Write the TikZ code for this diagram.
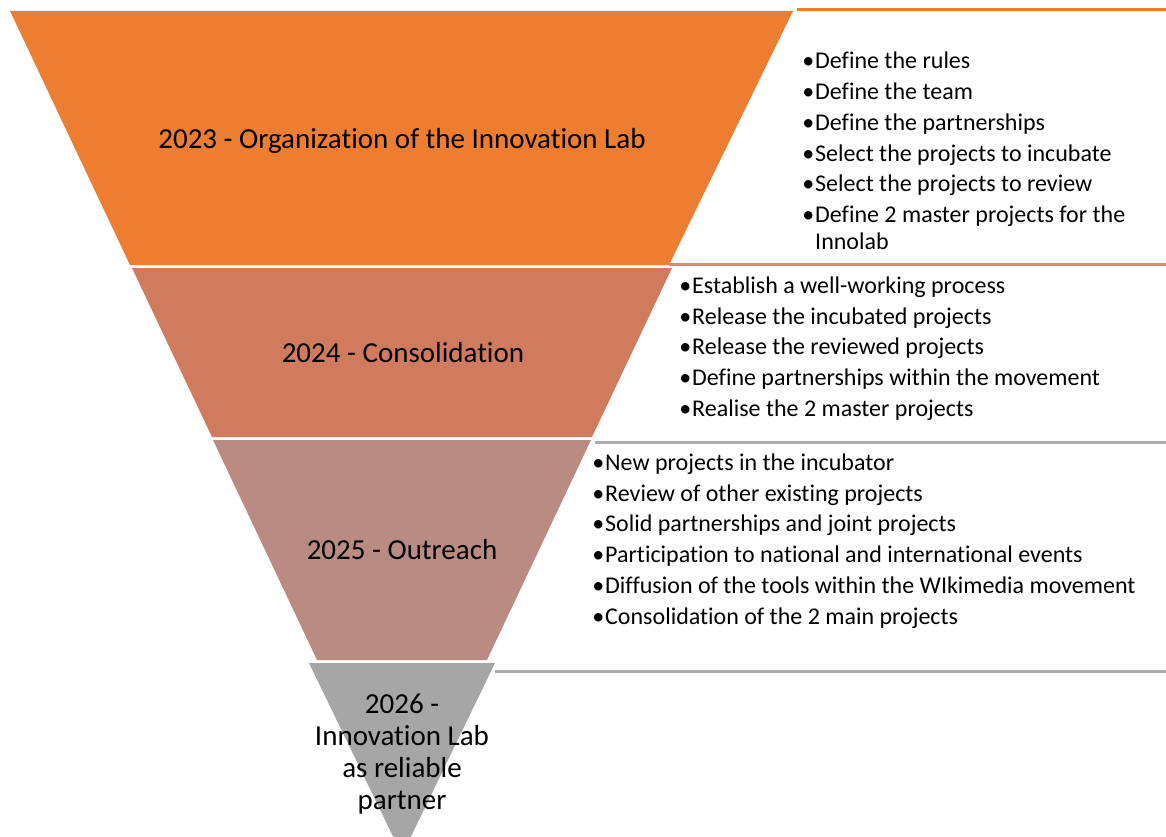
\documentclass[tikz,border=0pt]{standalone}
\usepackage{fontspec}
\setmainfont[Ligatures=NoCommon]{Carlito}
\definecolor{lay1}{RGB}{237,125,49}
\definecolor{lay2}{RGB}{209,123,94}
\definecolor{lay3}{RGB}{185,139,131}
\definecolor{lay4}{RGB}{166,166,166}
\definecolor{rule2}{RGB}{212,140,120}
\definecolor{rule3}{RGB}{172,172,172}
\begin{document}
\begin{tikzpicture}[x=1pt,y=-1pt,
  item/.style={anchor=base west, inner sep=0pt, font=\fontsize{24}{29}\selectfont},
  ttl/.style={anchor=base, inner sep=0pt, font=\fontsize{29}{32}\selectfont},
  toprule/.style={line width=3pt}]
\useasboundingbox (0,0) rectangle (1166,837);
\clip (0,0) rectangle (1166,837);
% funnel layers
\fill[lay1] (10,11) -- (793,11) -- (669,265) -- (130,265) -- cycle;
\fill[lay2] (132,268) -- (672,268) -- (592,437) -- (212,437) -- cycle;
\fill[lay3] (213,440) -- (591,440) -- (487,660) -- (317,660) -- cycle;
\fill[lay4] (309,663) -- (495,663) -- (402,855) -- cycle;
% rules of the text boxes
\draw[toprule, lay1] (797,10) -- (1166,10);
\draw[toprule, rule2] (669,264) -- (1166,264);
\draw[toprule, rule3] (595,442) -- (1166,442);
\draw[toprule, rule3] (495,671) -- (1166,671);
% titles
\node[ttl] (t1) at (402,149) {2023 - Organization of the Innovation Lab};
\node[ttl] (t2) at (403,362) {2024 - Consolidation};
\node[ttl] (t3) at (402,559) {2025 - Outreach};
\node[ttl] (t4a) at (402,713) {2026 -};
\node[ttl] (t4b) at (402,745) {Innovation Lab};
\node[ttl] (t4c) at (402,777) {as reliable};
\node[ttl] (t4d) at (402,809) {partner};
% layer 1 items
\node[item] (a1) at (815,69) {\llap{•\kern1pt}Define the rules};
\node[item] (a2) at (815,99.7) {\llap{•\kern1pt}Define the team};
\node[item] (a3) at (815,130.4) {\llap{•\kern1pt}Define the partnerships};
\node[item] (a4) at (815,161.1) {\llap{•\kern1pt}Select the projects to incubate};
\node[item] (a5) at (815,191.8) {\llap{•\kern1pt}Select the projects to review};
\node[item] (a6) at (815,222.5) {\llap{•\kern1pt}Define 2 master projects for the};
\node[item] (a7) at (815,249) {Innolab};
% layer 2 items
\node[item] (b1) at (692,293.5) {\llap{•\kern1pt}Establish a well-working process};
\node[item] (b2) at (692,324.2) {\llap{•\kern1pt}Release the incubated projects};
\node[item] (b3) at (692,354.9) {\llap{•\kern1pt}Release the reviewed projects};
\node[item] (b4) at (692,385.6) {\llap{•\kern1pt}Define partnerships within the movement};
\node[item] (b5) at (692,416.3) {\llap{•\kern1pt}Realise the 2 master projects};
% layer 3 items
\node[item] (c1) at (605,470.5) {\llap{•\kern1pt}New projects in the incubator};
\node[item] (c2) at (605,501.2) {\llap{•\kern1pt}Review of other existing projects};
\node[item] (c3) at (605,531.9) {\llap{•\kern1pt}Solid partnerships and joint projects};
\node[item] (c4) at (605,562.6) {\llap{•\kern1pt}Participation to national and international events};
\node[item] (c5) at (605,593.3) {\llap{•\kern1pt}Diffusion of the tools within the WIkimedia movement};
\node[item] (c6) at (605,624) {\llap{•\kern1pt}Consolidation of the 2 main projects};
\end{tikzpicture}
\end{document}
